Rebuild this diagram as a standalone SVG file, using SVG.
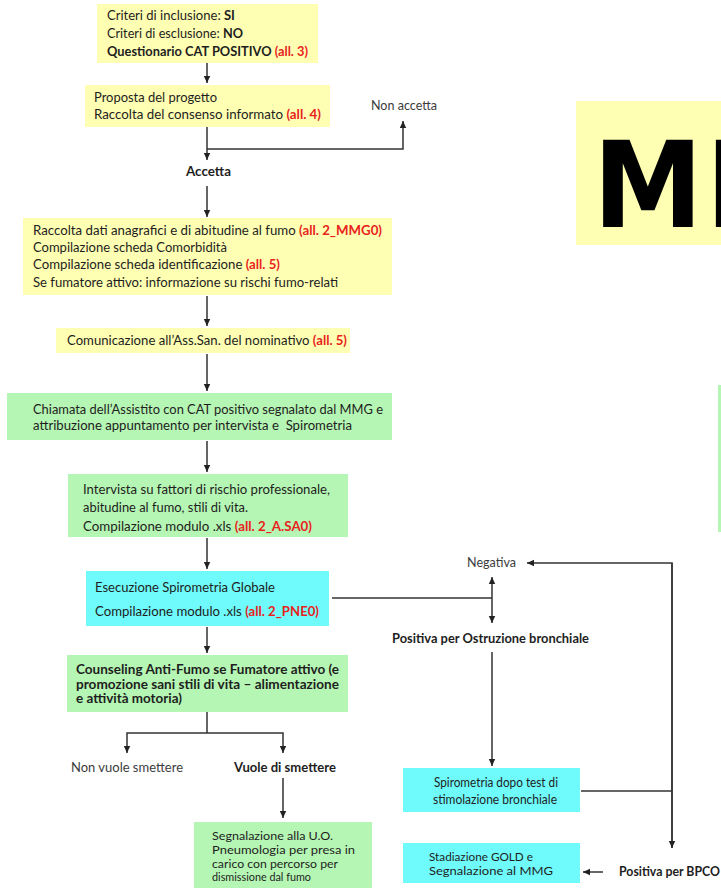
<svg xmlns="http://www.w3.org/2000/svg" width="721" height="888" viewBox="0 0 721 888">
  <style>
    text { font-family: Lato, "Liberation Sans", sans-serif; font-size: 12.5px; fill: #1e1e1e; }
    .b { font-weight: bold; }
    .r { font-weight: bold; fill: #e8231d; }
    .g { fill: #3c3c3c; }
    .s { font-size: 12px; }
    .yellow { fill: #ffffb3; }
    .green { fill: #b6f6b4; }
    .cyan { fill: #6ffbfb; }
    .wire { fill: none; stroke: #333; stroke-width: 1.5; }
    .big { font-family: "DejaVu Sans", sans-serif; font-size: 120px; font-weight: bold; fill: #000; letter-spacing: 3px; }
  </style>
  <defs>
    <marker id="arrow" markerUnits="userSpaceOnUse" markerWidth="8" markerHeight="8" refX="7" refY="4" orient="auto">
      <path d="M0,0.8 L7,4 L0,7.2 Z" fill="#222"/>
    </marker>
  </defs>

  <rect width="721" height="888" fill="#fff"/>

  <!-- title panel on the right, running past the page edge -->
  <g id="title-panel">
    <rect class="yellow" x="576" y="101" width="145" height="144"/>
    <text class="big" transform="scale(0.92,1)" x="644.6" y="227">MI</text>
  </g>
  <g id="side-panel">
    <rect class="green" x="718" y="385" width="3" height="147"/>
  </g>

  <!-- connectors -->
  <g id="connectors">
    <path class="wire" d="M207,63 V83" marker-end="url(#arrow)"/>
    <path class="wire" d="M207,127 V160" marker-end="url(#arrow)"/>
    <path class="wire" d="M207,149 H403 V121" marker-end="url(#arrow)"/>
    <path class="wire" d="M207,186 V217" marker-end="url(#arrow)"/>
    <path class="wire" d="M207,296 V326" marker-end="url(#arrow)"/>
    <path class="wire" d="M207,354 V391" marker-end="url(#arrow)"/>
    <path class="wire" d="M207,441 V472" marker-end="url(#arrow)"/>
    <path class="wire" d="M207,538 V569" marker-end="url(#arrow)"/>
    <path class="wire" d="M207,627 V653" marker-end="url(#arrow)"/>
    <path class="wire" d="M332,598 H492"/>
    <path class="wire" d="M492,598 V577" marker-end="url(#arrow)"/>
    <path class="wire" d="M492,598 V623" marker-end="url(#arrow)"/>
    <path class="wire" d="M492,652 V766" marker-end="url(#arrow)"/>
    <path class="wire" d="M672,848 V563 H527" marker-end="url(#arrow)"/>
    <path class="wire" d="M672,563 V848" marker-end="url(#arrow)"/>
    <path class="wire" d="M581,791 H672"/>
    <path class="wire" d="M603,872 H583" marker-end="url(#arrow)"/>
    <path class="wire" d="M207,712 V733"/>
    <path class="wire" d="M207,733 H127 V753" marker-end="url(#arrow)"/>
    <path class="wire" d="M207,733 H283 V753" marker-end="url(#arrow)"/>
    <path class="wire" d="M283,778 V818" marker-end="url(#arrow)"/>
  </g>

  <g id="criteri">
    <rect class="yellow" x="97" y="4" width="221" height="59"/>
    <text x="107" y="20" textLength="128" lengthAdjust="spacingAndGlyphs">Criteri di inclusione: <tspan class="b">SI</tspan></text>
    <text x="107" y="38" textLength="136" lengthAdjust="spacingAndGlyphs">Criteri di esclusione: <tspan class="b">NO</tspan></text>
    <text x="107" y="56" textLength="201" lengthAdjust="spacingAndGlyphs"><tspan class="b">Questionario CAT POSITIVO </tspan><tspan class="r">(all. 3)</tspan></text>
  </g>

  <g id="proposta">
    <rect class="yellow" x="85" y="85" width="245" height="42"/>
    <text x="94" y="102" textLength="123" lengthAdjust="spacingAndGlyphs">Proposta del progetto</text>
    <text x="94" y="119" textLength="227" lengthAdjust="spacingAndGlyphs">Raccolta del consenso informato <tspan class="r">(all. 4)</tspan></text>
  </g>

  <g id="non-accetta">
    <text class="g" x="371" y="110" textLength="66" lengthAdjust="spacingAndGlyphs">Non accetta</text>
  </g>
  <g id="accetta">
    <text class="b" x="186" y="176" textLength="45" lengthAdjust="spacingAndGlyphs">Accetta</text>
  </g>

  <g id="raccolta-dati">
    <rect class="yellow" x="23" y="218" width="369" height="77"/>
    <text x="33" y="235" textLength="349" lengthAdjust="spacingAndGlyphs">Raccolta dati anagrafici e di abitudine al fumo <tspan class="r">(all. 2_MMG0)</tspan></text>
    <text x="33" y="252" textLength="194" lengthAdjust="spacingAndGlyphs">Compilazione scheda Comorbidità</text>
    <text x="33" y="269" textLength="247" lengthAdjust="spacingAndGlyphs">Compilazione scheda identificazione <tspan class="r">(all. 5)</tspan></text>
    <text x="33" y="287" textLength="305" lengthAdjust="spacingAndGlyphs">Se fumatore attivo: informazione su rischi fumo-relati</text>
  </g>

  <g id="comunicazione">
    <rect class="yellow" x="56" y="328" width="294" height="25"/>
    <text x="67" y="345" textLength="280" lengthAdjust="spacingAndGlyphs">Comunicazione all’Ass.San. del nominativo <tspan class="r">(all. 5)</tspan></text>
  </g>

  <g id="chiamata">
    <rect class="green" x="7" y="393" width="385" height="47"/>
    <text x="33" y="414" textLength="350" lengthAdjust="spacingAndGlyphs">Chiamata dell’Assistito con CAT positivo segnalato dal MMG e</text>
    <text x="33" y="430" textLength="319" lengthAdjust="spacingAndGlyphs" xml:space="preserve">attribuzione appuntamento per intervista e  Spirometria</text>
  </g>

  <g id="intervista">
    <rect class="green" x="68" y="474" width="280" height="63"/>
    <text x="83" y="494" textLength="247" lengthAdjust="spacingAndGlyphs">Intervista su fattori di rischio professionale,</text>
    <text x="83" y="512" textLength="165" lengthAdjust="spacingAndGlyphs">abitudine al fumo, stili di vita.</text>
    <text x="83" y="531" textLength="229" lengthAdjust="spacingAndGlyphs">Compilazione modulo .xls <tspan class="r">(all. 2_A.SA0)</tspan></text>
  </g>

  <g id="spirometria-globale">
    <rect class="cyan" x="86" y="571" width="243" height="55"/>
    <text x="95" y="592" textLength="180" lengthAdjust="spacingAndGlyphs">Esecuzione Spirometria Globale</text>
    <text x="95" y="616" textLength="224" lengthAdjust="spacingAndGlyphs">Compilazione modulo .xls <tspan class="r">(all. 2_PNE0)</tspan></text>
  </g>

  <g id="negativa">
    <text class="g" x="467" y="567" textLength="49" lengthAdjust="spacingAndGlyphs">Negativa</text>
  </g>
  <g id="positiva-ostruzione">
    <text class="b" x="392" y="643" textLength="197" lengthAdjust="spacingAndGlyphs">Positiva per Ostruzione bronchiale</text>
  </g>

  <g id="counseling">
    <rect class="green" x="67" y="655" width="281" height="57"/>
    <text class="b" x="76" y="674" textLength="263" lengthAdjust="spacingAndGlyphs">Counseling Anti-Fumo se Fumatore attivo (e</text>
    <text class="b" x="76" y="688.5" textLength="263" lengthAdjust="spacingAndGlyphs">promozione sani stili di vita – alimentazione</text>
    <text class="b" x="76" y="703" textLength="106" lengthAdjust="spacingAndGlyphs">e attività motoria)</text>
  </g>

  <g id="non-vuole">
    <text class="g" x="71" y="772" textLength="112" lengthAdjust="spacingAndGlyphs">Non vuole smettere</text>
  </g>
  <g id="vuole">
    <text class="b" x="234" y="772" textLength="102" lengthAdjust="spacingAndGlyphs">Vuole di smettere</text>
  </g>

  <g id="segnalazione-uo">
    <rect class="green" x="194" y="822" width="178" height="66"/>
    <text class="s" x="212" y="840" textLength="121" lengthAdjust="spacingAndGlyphs">Segnalazione alla U.O.</text>
    <text class="s" x="212" y="854" textLength="143" lengthAdjust="spacingAndGlyphs">Pneumologia per presa in</text>
    <text class="s" x="212" y="867.5" textLength="126" lengthAdjust="spacingAndGlyphs">carico con percorso per</text>
    <text class="s" x="212" y="881" textLength="99" lengthAdjust="spacingAndGlyphs">dismissione dal fumo</text>
  </g>

  <g id="spirometria-stimolazione">
    <rect class="cyan" x="403" y="768" width="177" height="44"/>
    <text x="434" y="787" textLength="124" lengthAdjust="spacingAndGlyphs">Spirometria dopo test di</text>
    <text x="433" y="804" textLength="124" lengthAdjust="spacingAndGlyphs">stimolazione bronchiale</text>
  </g>

  <g id="stadiazione">
    <rect class="cyan" x="403" y="843" width="177" height="40"/>
    <text class="s" x="429" y="861" textLength="104" lengthAdjust="spacingAndGlyphs">Stadiazione GOLD e</text>
    <text class="s" x="429" y="875" textLength="124" lengthAdjust="spacingAndGlyphs">Segnalazione al MMG</text>
  </g>

  <g id="positiva-bpco">
    <text class="b" x="619" y="876" textLength="101" lengthAdjust="spacingAndGlyphs">Positiva per BPCO</text>
  </g>
</svg>
